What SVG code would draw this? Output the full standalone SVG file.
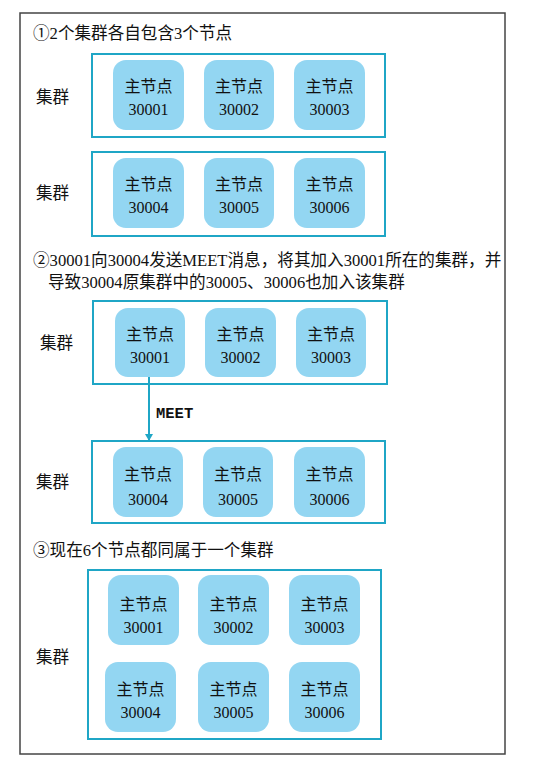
<svg xmlns="http://www.w3.org/2000/svg" width="541" height="757" viewBox="0 0 541 757">
<defs>
<style>
.frame{fill:#fff;stroke:#444;stroke-width:1.5}
.box{fill:#fff;stroke:#1fa6c6;stroke-width:2}
.node{fill:#93d6f2}
.t{font-family:"Liberation Serif","Noto Sans CJK SC",serif;font-size:16px;fill:#111}
.c{text-anchor:middle}
.lbl{font-family:"Liberation Serif","Noto Sans CJK SC",serif;font-size:16.6px;fill:#111}
.meet{font-family:"Liberation Mono",monospace;font-size:15.5px;font-weight:bold;fill:#111}
.edge{stroke:#1fa6c6;stroke-width:2;fill:none}
</style>
<marker id="ah" markerWidth="8" markerHeight="8" refX="6" refY="4" orient="auto" markerUnits="userSpaceOnUse">
<path d="M0,0 L7,4 L0,8 z" fill="#1fa6c6"/>
</marker>
</defs>
<rect class="frame" x="20" y="13" width="485" height="741"/>

<text class="lbl" x="33" y="39">①2个集群各自包含3个节点</text>
<text class="lbl" x="33" y="266">②30001向30004发送MEET消息，将其加入30001所在的集群，并</text>
<text class="lbl" x="48" y="288">导致30004原集群中的30005、30006也加入该集群</text>
<text class="lbl" x="33" y="556">③现在6个节点都同属于一个集群</text>

<g id="cluster1">
<rect class="box" x="92" y="54" width="293" height="83"/>
<text class="lbl" x="36" y="103">集群</text>
</g>
<g id="n1a"><rect class="node" x="113" y="60" width="71" height="70" rx="13"/><text class="t c" x="148.5" y="92">主节点</text><text class="t c" x="148.5" y="115">30001</text></g>
<g id="n1b"><rect class="node" x="204" y="60" width="70" height="70" rx="13"/><text class="t c" x="239" y="92">主节点</text><text class="t c" x="239" y="115">30002</text></g>
<g id="n1c"><rect class="node" x="294" y="60" width="71" height="70" rx="13"/><text class="t c" x="329.5" y="92">主节点</text><text class="t c" x="329.5" y="115">30003</text></g>

<g id="cluster2">
<rect class="box" x="92" y="152" width="293" height="84"/>
<text class="lbl" x="36" y="199">集群</text>
</g>
<g id="n2a"><rect class="node" x="113" y="158" width="71" height="70" rx="13"/><text class="t c" x="148.5" y="190">主节点</text><text class="t c" x="148.5" y="213">30004</text></g>
<g id="n2b"><rect class="node" x="204" y="158" width="70" height="70" rx="13"/><text class="t c" x="239" y="190">主节点</text><text class="t c" x="239" y="213">30005</text></g>
<g id="n2c"><rect class="node" x="294" y="158" width="71" height="70" rx="13"/><text class="t c" x="329.5" y="190">主节点</text><text class="t c" x="329.5" y="213">30006</text></g>

<g id="cluster3">
<rect class="box" x="93" y="301" width="294" height="83"/>
<text class="lbl" x="40" y="349">集群</text>
</g>
<g id="n3a"><rect class="node" x="115" y="308" width="70" height="69" rx="13"/><text class="t c" x="150" y="340">主节点</text><text class="t c" x="150" y="363">30001</text></g>
<g id="n3b"><rect class="node" x="205" y="308" width="71" height="69" rx="13"/><text class="t c" x="240.5" y="340">主节点</text><text class="t c" x="240.5" y="363">30002</text></g>
<g id="n3c"><rect class="node" x="296" y="308" width="70" height="69" rx="13"/><text class="t c" x="331" y="340">主节点</text><text class="t c" x="331" y="363">30003</text></g>

<g id="cluster4">
<rect class="box" x="92" y="441" width="293" height="82"/>
<text class="lbl" x="36" y="488">集群</text>
</g>
<g id="n4a"><rect class="node" x="113" y="447" width="70" height="70" rx="13"/><text class="t c" x="148" y="480">主节点</text><text class="t c" x="148" y="505">30004</text></g>
<g id="n4b"><rect class="node" x="203" y="447" width="70" height="70" rx="13"/><text class="t c" x="238" y="480">主节点</text><text class="t c" x="238" y="505">30005</text></g>
<g id="n4c"><rect class="node" x="294" y="447" width="71" height="70" rx="13"/><text class="t c" x="329.5" y="480">主节点</text><text class="t c" x="329.5" y="505">30006</text></g>

<g id="connectors">
<line class="edge" x1="149" y1="377" x2="149" y2="440" marker-end="url(#ah)"/>
<text class="meet" x="156" y="418">MEET</text>
</g>

<g id="cluster5">
<rect class="box" x="88" y="570" width="293" height="169"/>
<text class="lbl" x="36" y="663">集群</text>
</g>
<g id="n5a"><rect class="node" x="108" y="575" width="71" height="70" rx="13"/><text class="t c" x="143.5" y="610">主节点</text><text class="t c" x="143.5" y="633">30001</text></g>
<g id="n5b"><rect class="node" x="198" y="575" width="71" height="70" rx="13"/><text class="t c" x="233.5" y="610">主节点</text><text class="t c" x="233.5" y="633">30002</text></g>
<g id="n5c"><rect class="node" x="289" y="575" width="71" height="70" rx="13"/><text class="t c" x="324.5" y="610">主节点</text><text class="t c" x="324.5" y="633">30003</text></g>
<g id="n5d"><rect class="node" x="105" y="662" width="71" height="70" rx="13"/><text class="t c" x="140.5" y="695">主节点</text><text class="t c" x="140.5" y="718">30004</text></g>
<g id="n5e"><rect class="node" x="198" y="662" width="71" height="70" rx="13"/><text class="t c" x="233.5" y="695">主节点</text><text class="t c" x="233.5" y="718">30005</text></g>
<g id="n5f"><rect class="node" x="289" y="662" width="71" height="70" rx="13"/><text class="t c" x="324.5" y="695">主节点</text><text class="t c" x="324.5" y="718">30006</text></g>
</svg>
